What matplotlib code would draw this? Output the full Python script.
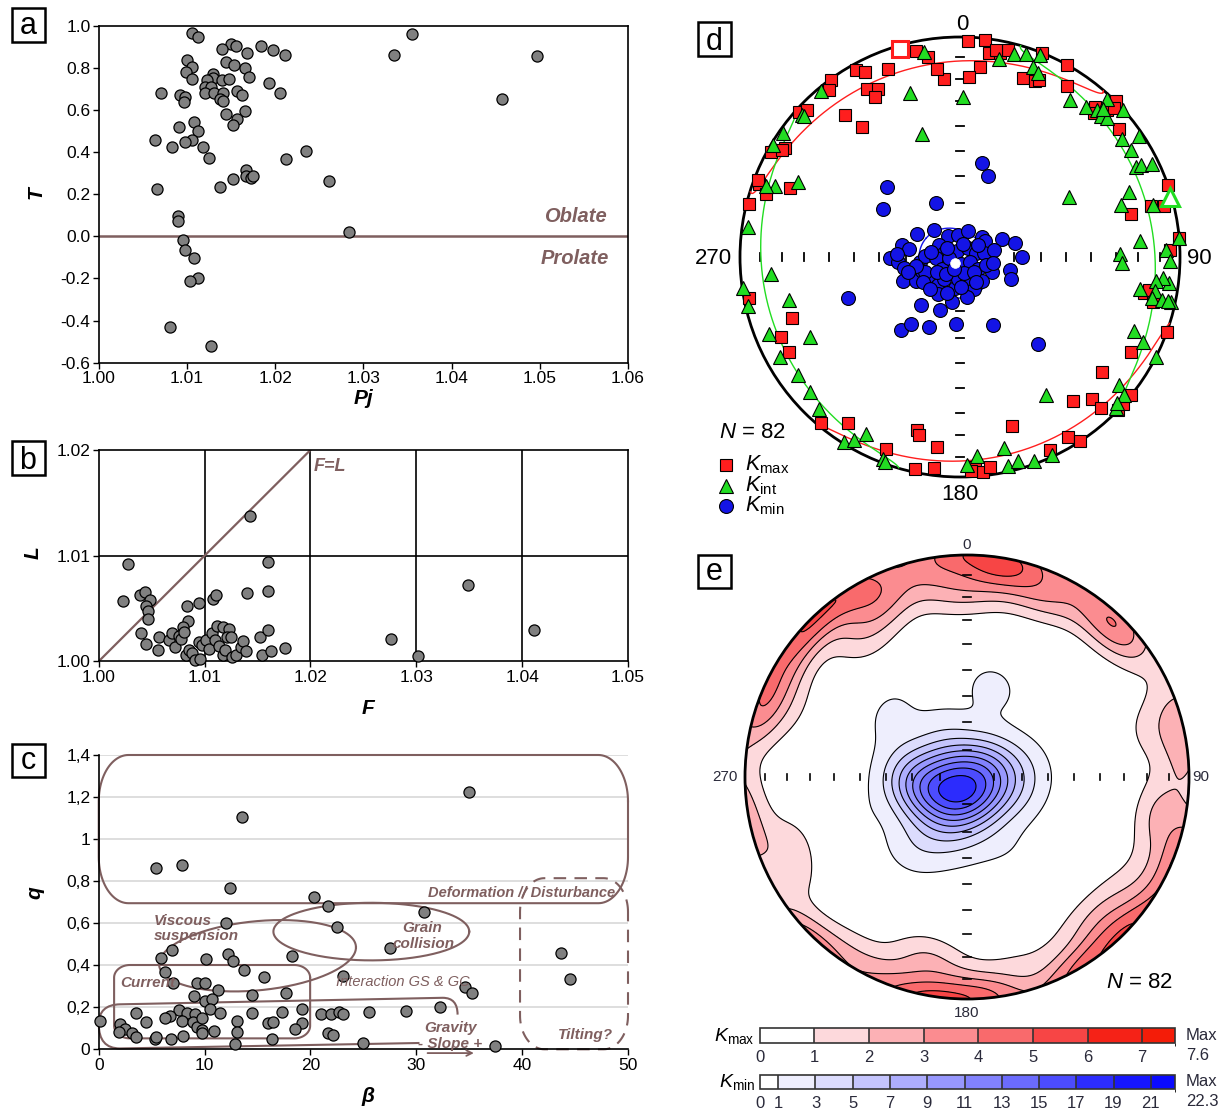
import numpy as np
import matplotlib
matplotlib.use("Agg")
import matplotlib.pyplot as plt
from matplotlib.patches import Circle, Rectangle, PathPatch
from matplotlib.path import Path
from matplotlib.lines import Line2D
from matplotlib.colors import ListedColormap, BoundaryNorm
from matplotlib.cm import ScalarMappable

# ---------------- data ----------------
# (a) T vs Pj
pj = [1.0106, 1.0113, 1.0150, 1.0156, 1.0140, 1.0168, 1.0184, 1.0197, 1.0211, 1.0100,
      1.0106, 1.0144, 1.0153, 1.0166, 1.0099, 1.0106, 1.0129, 1.0130, 1.0123, 1.0140,
      1.0148, 1.0170, 1.0193, 1.0121, 1.0127, 1.0121, 1.0131, 1.0141, 1.0157, 1.0162,
      1.0206, 1.0071, 1.0092, 1.0098, 1.0097, 1.0138, 1.0141, 1.0166, 1.0144, 1.0157,
      1.0152, 1.0091, 1.0108, 1.0112, 1.0106, 1.0098, 1.0064, 1.0083, 1.0118, 1.0125,
      1.0212, 1.0235, 1.0167, 1.0167, 1.0173, 1.0175, 1.0152, 1.0138, 1.0066, 1.0261,
      1.0090, 1.0090, 1.0284, 1.0095, 1.0098, 1.0108, 1.0112, 1.0103, 1.0081, 1.0127,
      1.0335, 1.0355, 1.0457, 1.0497]
T_vals = [0.967, 0.948, 0.913, 0.904, 0.889, 0.869, 0.903, 0.883, 0.862, 0.839,
          0.805, 0.828, 0.812, 0.801, 0.778, 0.748, 0.771, 0.753, 0.742, 0.742,
          0.748, 0.758, 0.729, 0.708, 0.708, 0.679, 0.682, 0.679, 0.691, 0.671,
          0.679, 0.679, 0.671, 0.660, 0.639, 0.650, 0.644, 0.597, 0.581, 0.555,
          0.527, 0.521, 0.541, 0.500, 0.457, 0.448, 0.457, 0.422, 0.422, 0.373,
          0.366, 0.407, 0.313, 0.286, 0.275, 0.285, 0.271, 0.236, 0.226, 0.263,
          0.097, 0.073, 0.019, -0.017, -0.065, -0.101, -0.196, -0.212, -0.429, -0.519,
          0.862, 0.960, 0.652, 0.854]

# (b) L vs F
F_vals = [1.0143, 1.0028, 1.0160, 1.0023, 1.0039, 1.0044, 1.0048, 1.0045, 1.0047, 1.0047,
          1.0083, 1.0095, 1.0108, 1.0111, 1.0140, 1.0160, 1.0084, 1.0080, 1.0040, 1.0045,
          1.0056, 1.0057, 1.0066, 1.0069, 1.0072, 1.0076, 1.0078, 1.0081, 1.0082, 1.0085,
          1.0088, 1.0091, 1.0096, 1.0095, 1.0098, 1.0101, 1.0104, 1.0107, 1.0110, 1.0112,
          1.0114, 1.0117, 1.0117, 1.0119, 1.0123, 1.0121, 1.0125, 1.0126, 1.0130, 1.0134,
          1.0136, 1.0139, 1.0152, 1.0154, 1.0160, 1.0163, 1.0176, 1.0276, 1.0302, 1.0349,
          1.0411]
L_vals = [1.01379, 1.00921, 1.00937, 1.00568, 1.00628, 1.00659, 1.00580, 1.00524, 1.00476, 1.00401,
          1.00524, 1.00549, 1.00587, 1.00628, 1.00650, 1.00662, 1.00379, 1.00328, 1.00265, 1.00167,
          1.00104, 1.00230, 1.00202, 1.00265, 1.00139, 1.00237, 1.00215, 1.00276, 1.00060, 1.00107,
          1.00082, 1.00013, 1.00025, 1.00186, 1.00155, 1.00202, 1.00120, 1.00265, 1.00202, 1.00338,
          1.00145, 1.00322, 1.00060, 1.00107, 1.00303, 1.00233, 1.00227, 1.00038, 1.00060, 1.00139,
          1.00192, 1.00101, 1.00230, 1.00060, 1.00297, 1.00101, 1.00123, 1.00208, 1.00047, 1.00726,
          1.00297]

# (c) q vs beta
beta = [35.0, 13.5, 5.4, 7.9, 12.4, 20.3, 21.7, 30.7, 12.0, 22.5,
        27.5, 18.3, 12.2, 12.7, 5.9, 6.9, 10.1, 6.3, 13.7, 15.6,
        23.1, 7.0, 9.3, 10.0, 11.3, 9.0, 14.5, 17.7, 10.0, 10.7,
        10.5, 19.2, 32.2, 34.6, 35.3, 29.0, 25.5, 21.0, 21.9, 22.7,
        23.1, 17.3, 11.5, 14.5, 7.6, 8.3, 9.1, 6.7, 6.3, 3.5,
        4.5, 7.9, 8.9, 9.3, 9.8, 9.8, 9.8, 10.9, 13.1, 13.1,
        16.0, 16.5, 19.2, 18.5, 21.7, 22.1, 0.1, 2.0, 2.5, 1.9,
        3.1, 3.5, 5.3, 5.4, 6.8, 8.0, 16.4, 12.9, 25.0, 37.4,
        43.7, 44.5]
q_vals = [1.224, 1.107, 0.863, 0.875, 0.768, 0.726, 0.684, 0.655, 0.603, 0.584,
          0.481, 0.446, 0.452, 0.420, 0.436, 0.473, 0.431, 0.370, 0.377, 0.343,
          0.349, 0.314, 0.314, 0.314, 0.282, 0.255, 0.258, 0.268, 0.232, 0.238,
          0.193, 0.192, 0.200, 0.295, 0.266, 0.184, 0.178, 0.170, 0.170, 0.176,
          0.170, 0.179, 0.171, 0.171, 0.187, 0.171, 0.168, 0.160, 0.151, 0.171,
          0.130, 0.136, 0.132, 0.108, 0.147, 0.092, 0.076, 0.089, 0.136, 0.082,
          0.124, 0.130, 0.124, 0.097, 0.076, 0.070, 0.136, 0.119, 0.098, 0.082,
          0.076, 0.057, 0.048, 0.060, 0.048, 0.063, 0.048, 0.025, 0.029, 0.016,
          0.457, 0.336]

# (d) principal axes: declination / inclination (degrees)
kmax_dec = [2, 6.5, 8, 11, 13, 22, 29, 19.5, 23, 32, 6, 3, 355, 353, 351, 348, 339, 331, 333, 324,
            322, 331, 334, 332, 321, 323, 312, 314, 302, 299, 290, 288, 292, 284, 259, 250, 246, 241,
            220, 214, 201, 194, 193, 187, 192, 187, 176, 174, 172, 163, 155, 149, 147, 142, 137, 129,
            137, 134, 132, 129, 119, 110, 101, 103, 71, 76, 75, 76, 88, 85, 51, 45, 45, 42, 43,
            10, 46, 100, 291, 177, 24, 301]
kmax_inc = [2, 1, 7, 6, 4, 0, 0, 15, 14, 9, 14, 19, 20, 15, 9, 5, 9.5, 3, 6, 0.5,
            4, 14, 16, 19, 18, 27, 1.5, 4, 7, 2, 3, 8, 18, 1.5, 2.5, 20, 12, 12,
            2, 10, 7, 20, 18, 14, 1.5, 4, 5, 2, 4, 21, 3.5, 5, 0.3, 18, 13, 18,
            7, 0, 0.5, 0, 12, 0, 16, 11, 0, 5, 11, 21, 5, 0, 8, 0, 6, 9, 11.5,
            5, 3, 14, 2, 3, 13, 6]
kint_dec = [350, 11, 15, 21.5, 21, 23, 343, 1, 343, 320, 312, 305, 301, 295, 291, 290, 278, 265,
            262, 257, 256, 242, 248, 241, 234, 228, 223, 212, 210, 208, 201, 200, 178, 175, 167,
            167, 164, 160, 155, 148, 61, 35, 40, 43, 45, 46.5, 43, 48, 54, 56, 58, 63, 63, 64,
            69, 72, 75, 85, 89, 92, 88, 91, 97, 96, 97, 100, 100, 102, 102, 102, 113, 115, 117,
            129, 130, 134, 85, 133, 44, 102, 312, 18]
kint_inc = [6, 9, 5, 1.5, 8.5, 10, 23, 28, 41, 2, 4, 2, 1, 20, 11, 7, 3, 15,
            0.2, 1.4, 21, 24, 7, 7, 10, 9, 6.5, 1, 4.5, 9.5, 2, 1, 6, 10, 3,
            12, 4, 1.5, 0.7, 27, 43, 14, 12, 9.5, 10, 9, 2, 0, 10, 2, 9, 11, 8.7, 3.5,
            19, 24, 10, 19, 28, 27, 7, 5, 5, 8, 11, 18, 11, 12, 7, 2, 15, 9, 0,
            8, 3, 1.4, 0, 3, 7, 4, 5, 3.4]
kmin_dec = [13, 19, 314, 302, 336, 250, 138, 219, 216, 204, 183, 154, 219, 201, 190,
            316, 298, 330, 355, 18, 48, 58, 67, 76, 90, 282, 279, 269, 265, 259, 247, 241, 263, 272, 299,
            283, 331, 43, 76, 81, 250, 239, 267, 235, 206, 168, 116, 122, 116, 105, 113, 156, 170, 190, 218,
            216, 185, 162, 210, 246, 259, 138, 164, 263,
            280, 305, 12, 57, 78, 237, 220, 205, 138, 236, 223, 200, 178, 148, 107, 254, 273, 101]
kmin_inc = [54, 58, 52, 56, 68, 45, 46, 55, 59, 61.5, 65, 62, 67, 69, 73,
            76, 72, 81, 82, 80, 79, 79, 73, 69, 67, 68, 71, 64, 67, 69, 67, 71.5, 75, 77, 81,
            84, 87.6, 85.5, 84, 81, 75, 77, 81, 82, 84, 87.5, 86, 82, 77, 71, 69.5, 77, 75, 78.5, 77,
            80, 82, 82, 74, 76, 73.5, 78, 84, 86,
            79, 84, 85, 82, 77, 80, 82, 85, 82.5, 73.5, 74, 76, 79, 79, 80, 70, 66.5, 77.6]
# mean directions (Kmax, Kint, Kmin) and confidence-ellipse semi-axes (deg)
mean_dec = [344, 74, 221]
mean_inc = [2, 1, 87]
ell_major = [57, 58, 14]
ell_minor = [10.5, 12, 12]

# (e) contour legend levels
kmax_levels = [0, 1, 2, 3, 4, 5, 6, 7, 7.6]
kmin_levels = [0, 1, 3, 5, 7, 9, 11, 13, 15, 17, 19, 21, 22.3]
kmax_colors = ['#ffffff', '#fdd9dc', '#fcb1b5', '#fb8c90', '#f96a6c', '#f74545', '#f52217', '#f41c08']
kmin_colors = ['#ffffff', '#eeeefd', '#dcdcfd', '#c5c5fd', '#adadfd', '#9797fd', '#8282fd',
               '#6b6bfd', '#4c4cfd', '#2c2cfd', '#1616fd', '#0a0aff']

# ---------------- style ----------------
plt.rcParams['font.family'] = ['Liberation Sans', 'DejaVu Sans']
plt.rcParams['mathtext.fontset'] = 'custom'
plt.rcParams['mathtext.rm'] = 'Liberation Sans'
plt.rcParams['mathtext.it'] = 'Liberation Sans:italic'
plt.rcParams['mathtext.bf'] = 'Liberation Sans:bold'

W, H = 1222, 1110
fig = plt.figure(figsize=(W / 100, H / 100), dpi=100)
BROWN = '#7f5f5f'
FAM = ['Liberation Sans', 'DejaVu Sans']
GREY = '#808080'
TXT = '#2a2a3a'
ann = dict(color=BROWN, fontweight='bold', style='italic', family=FAM)


def fx(x):
    return x / W


def fy(y):
    return 1 - y / H


def box(x0, y0, x1, y1):
    return [x0 / W, 1 - y1 / H, (x1 - x0) / W, (y1 - y0) / H]


def letter(cx, cy, s, dy=9):
    size = 33
    fig.add_artist(Rectangle((fx(cx - size / 2), fy(cy + size / 2)), size / W, size / H,
                             transform=fig.transFigure, fill=False, ec='black', lw=1.8))
    fig.text(fx(cx), fy(cy + dy), s, fontsize=22, ha='center', va='baseline')


def style(ax):
    ax.tick_params(direction='out', length=4, width=1, labelsize=12.5, pad=2, colors='black')
    for s in ax.spines.values():
        s.set_linewidth(1.2)


# ---------------- panel a ----------------
ax_a = fig.add_axes(box(98.75, 25.7, 628, 362.7))
style(ax_a)
ax_a.plot(pj, T_vals, 'o', ms=8, mfc=GREY, mec='black', mew=0.9, zorder=3, clip_on=False)
ax_a.axhline(0, color=BROWN, lw=1.8, zorder=2)
ax_a.set_xlim(1.0, 1.06)
ax_a.set_ylim(-0.6, 1.0)
xt = np.round(np.arange(1.0, 1.0601, 0.01), 2)
ax_a.set_xticks(xt)
ax_a.set_xticklabels([f'{v:.2f}' for v in xt])
yt = np.round(np.arange(-0.6, 1.001, 0.2), 1)
ax_a.set_yticks(yt)
ax_a.set_yticklabels([f'{v:.1f}'.replace('-0.0', '0.0') for v in yt])
ax_a.text(1.054, 0.093, 'Oblate', ha='center', va='center', fontsize=14.5, **ann)
ax_a.text(1.054, -0.104, 'Prolate', ha='center', va='center', fontsize=14.5, **ann)
fig.text(fx(363), fy(398), 'Pj', ha='center', va='center', fontsize=15, fontweight='bold', style='italic')
fig.text(fx(36), fy(193), 'T', ha='center', va='center', fontsize=15, fontweight='bold', style='italic', rotation=90)
letter(28, 25, 'a')

# ---------------- panel b ----------------
ax_b = fig.add_axes(box(98.75, 450, 628, 661.3))
style(ax_b)
for xv in [1.01, 1.02, 1.03, 1.04]:
    ax_b.axvline(xv, color='black', lw=1.2, zorder=1)
ax_b.axhline(1.01, color='black', lw=1.2, zorder=1)
ax_b.plot([1.0, 1.02], [1.0, 1.02], color=BROWN, lw=1.6, zorder=2)
ax_b.plot(F_vals, L_vals, 'o', ms=8, mfc=GREY, mec='black', mew=0.9, zorder=3, clip_on=False)
ax_b.set_xlim(1.0, 1.05)
ax_b.set_ylim(1.0, 1.02)
xt = np.round(np.arange(1.0, 1.0501, 0.01), 2)
ax_b.set_xticks(xt)
ax_b.set_xticklabels([f'{v:.2f}' for v in xt])
ax_b.set_yticks([1.0, 1.01, 1.02])
ax_b.set_yticklabels(['1.00', '1.01', '1.02'])
ax_b.text(1.0203, 1.0184, 'F=L', ha='left', va='center', fontsize=13, **ann)
fig.text(fx(368), fy(708), 'F', ha='center', va='center', fontsize=15, fontweight='bold', style='italic')
fig.text(fx(33), fy(553), 'L', ha='center', va='center', fontsize=15, fontweight='bold', style='italic', rotation=90)
letter(28, 458, 'b', dy=11)

# ---------------- panel c ----------------
ax_c = fig.add_axes(box(98.75, 755, 628, 1049.3))
style(ax_c)
ax_c.spines['top'].set_visible(False)
ax_c.spines['right'].set_visible(False)
ax_c.set_xlim(0, 50)
ax_c.set_ylim(0, 1.4)
qt = [0, 0.2, 0.4, 0.6, 0.8, 1.0, 1.2, 1.4]
ax_c.set_yticks(qt)
ax_c.set_yticklabels(['0', '0,2', '0,4', '0,6', '0,8', '1', '1,2', '1,4'])
ax_c.set_xticks([0, 10, 20, 30, 40, 50])
for v in qt[1:]:
    ax_c.axhline(v, color='#d8d8d8', lw=1.2, zorder=0)


def rrect(ax, x0, y0, x1, y1, rx, ry, **kw):
    t = np.linspace(0, np.pi / 2, 25)
    xs, ys = [], []
    for cx, cy, a0 in [(x1 - rx, y1 - ry, 0), (x0 + rx, y1 - ry, np.pi / 2),
                       (x0 + rx, y0 + ry, np.pi), (x1 - rx, y0 + ry, 1.5 * np.pi)]:
        xs += list(cx + rx * np.cos(t + a0))
        ys += list(cy + ry * np.sin(t + a0))
    xs.append(xs[0])
    ys.append(ys[0])
    ax.plot(xs, ys, clip_on=False, zorder=2, **kw)


rrect(ax_c, 0, 0.695, 50, 1.4, 2.8, 0.22, color=BROWN, lw=1.5)
rrect(ax_c, 1.45, 0.052, 19.97, 0.401, 1.5, 0.06, color=BROWN, lw=1.5)
rrect(ax_c, 39.8, 0.0, 50, 0.814, 2.3, 0.16, color=BROWN, lw=1.5, ls=(0, (6, 4)))
grav = Path([(33.9, 0.165), (33.9, 0.245), (32.5, 0.245), (2.0, 0.214),
             (0.0, 0.212), (0.0, 0.12), (0.0, 0.004), (2.0, 0.004), (30.3, 0.03)],
            [Path.MOVETO, Path.CURVE3, Path.CURVE3, Path.LINETO,
             Path.CURVE3, Path.CURVE3, Path.CURVE3, Path.CURVE3, Path.LINETO])
ax_c.add_patch(PathPatch(grav, fill=False, ec=BROWN, lw=1.5, zorder=2, clip_on=False))
tt = np.linspace(0, 2 * np.pi, 300)
ax_c.plot(15.0 + 9.3 * np.cos(tt), 0.445 + 0.165 * np.sin(tt) + 0.0043 * 9.3 * np.cos(tt),
          color=BROWN, lw=1.5, zorder=2)
ax_c.plot(25.75 + 9.25 * np.cos(tt), 0.56 + 0.137 * np.sin(tt), color=BROWN, lw=1.5, zorder=2)
ax_c.annotate('', xy=(35.7, -0.018), xytext=(30.8, -0.018),
              arrowprops=dict(arrowstyle='->', color=BROWN, lw=1.3), annotation_clip=False)
ax_c.plot(beta, q_vals, 'o', ms=8, mfc=GREY, mec='black', mew=0.9, zorder=3, clip_on=False)
fs_c = 11
ax_c.text(39.9, 0.742, 'Deformation // Disturbance', ha='center', va='center', fontsize=10.5, **ann)
ax_c.text(5.2, 0.61, 'Viscous', ha='left', va='center', fontsize=fs_c, **ann)
ax_c.text(5.2, 0.538, 'suspension', ha='left', va='center', fontsize=fs_c, **ann)
ax_c.text(30.6, 0.575, 'Grain', ha='center', va='center', fontsize=fs_c, **ann)
ax_c.text(30.7, 0.503, 'collision', ha='center', va='center', fontsize=fs_c, **ann)
ax_c.text(4.6, 0.314, 'Current', ha='center', va='center', fontsize=fs_c, **ann)
ax_c.text(28.7, 0.322, 'Interaction GS & GC', ha='center', va='center', fontsize=10.5,
          color=BROWN, style='italic', family=FAM)
ax_c.text(33.2, 0.10, 'Gravity', ha='center', va='center', fontsize=fs_c, **ann)
ax_c.text(33.2, 0.026, '- Slope +', ha='center', va='center', fontsize=fs_c, **ann)
ax_c.text(46.0, 0.068, 'Tilting?', ha='center', va='center', fontsize=fs_c, **ann)
fig.text(fx(368), fy(1097), 'β', ha='center', va='center', fontsize=15, fontweight='bold', style='italic')
fig.text(fx(35), fy(893), 'q', ha='center', va='center', fontsize=15, fontweight='bold', style='italic', rotation=90)
letter(28, 760, 'c')


# ---------------- stereonet helpers ----------------
def dirvec(dec, inc):
    d = np.radians(np.asarray(dec, float))
    i = np.radians(np.asarray(inc, float))
    return np.stack([np.cos(i) * np.cos(d), np.cos(i) * np.sin(d), np.sin(i)], axis=-1)


def project(v):
    v = np.atleast_2d(np.array(v, float))
    neg = v[:, 2] < 0
    v[neg] *= -1
    z = np.clip(v[:, 2], -1, 1)
    h = np.hypot(v[:, 0], v[:, 1])
    rr = np.sqrt(np.clip(1 - z, 0, None))
    s = np.where(h > 1e-12, rr / np.maximum(h, 1e-12), 0.0)
    return v[:, 1] * s, v[:, 0] * s


def ellipse_xy(dec, inc, a, b, n=721):
    m = dirvec(dec, inc)
    d = np.radians(dec)
    e1 = np.array([-np.sin(d), np.cos(d), 0.0])
    e2 = np.cross(m, e1)
    e2 /= np.linalg.norm(e2)
    phi = np.linspace(0, 2 * np.pi, n)
    A, B = np.radians(a), np.radians(b)
    alpha = A * B / np.sqrt((B * np.cos(phi)) ** 2 + (A * np.sin(phi)) ** 2)
    v = (np.cos(alpha)[:, None] * m[None, :] +
         np.sin(alpha)[:, None] * (np.cos(phi)[:, None] * e1[None, :] + np.sin(phi)[:, None] * e2[None, :]))
    flip = v[:, 2] < 0
    X, Y = project(v)
    X = X.astype(float)
    Y = Y.astype(float)
    brk = np.where(np.diff(flip.astype(int)) != 0)[0]
    X = np.insert(X, brk + 1, np.nan)
    Y = np.insert(Y, brk + 1, np.nan)
    return X, Y


RED, GREEN, BLUE = '#ff1e1e', '#22dd22', '#1414e6'

# ---------------- panel d ----------------
ax_d = fig.add_axes(box(710, 7, 1210, 507))
lim = 250 / 220
ax_d.set_xlim(-lim, lim)
ax_d.set_ylim(-lim, lim)
ax_d.axis('off')
ax_d.add_patch(Circle((0, 0), 1, fill=False, lw=2.0, ec='black', zorder=1))
for inc in range(10, 90, 10):
    r = np.sqrt(2) * np.sin(np.radians(90 - inc) / 2)
    for s in (-1, 1):
        ax_d.plot([s * r, s * r], [-0.016, 0.016], color='black', lw=1.3, zorder=1)
        ax_d.plot([-0.02, 0.02], [s * r, s * r], color='black', lw=1.3, zorder=1)
for k, col in enumerate([RED, GREEN, BLUE]):
    ex, ey = ellipse_xy(mean_dec[k], mean_inc[k], ell_major[k], ell_minor[k])
    ax_d.plot(ex, ey, color=col, lw=1.0, zorder=2)
xm, ym = project(dirvec(kmax_dec, kmax_inc))
ax_d.plot(xm, ym, 's', ms=8.5, mfc=RED, mec='black', mew=0.8, zorder=3, clip_on=False)
xi, yi = project(dirvec(kint_dec, kint_inc))
ax_d.plot(xi, yi, '^', ms=9.5, mfc=GREEN, mec='black', mew=0.8, zorder=3, clip_on=False)
xn, yn = project(dirvec(kmin_dec, kmin_inc))
ax_d.plot(xn, yn, 'o', ms=10, mfc=BLUE, mec='black', mew=0.8, zorder=4)
mx, my = project(dirvec(mean_dec, mean_inc))
ax_d.plot(mx[0], my[0], 's', ms=11, mfc='white', mec=RED, mew=2.2, zorder=5, clip_on=False)
ax_d.plot(mx[1], my[1], '^', ms=13, mfc='white', mec=GREEN, mew=2.2, zorder=5, clip_on=False)
ax_d.plot(mx[2], my[2], 'o', ms=7, mfc='white', mec='white', mew=0.5, zorder=5)
for s, (x, y) in {'0': (962, 25), '90': (1199, 258), '180': (960, 494), '270': (713, 258)}.items():
    fig.text(fx(x), fy(y), s, ha='center', va='center', fontsize=16)
fig.text(fx(719), fy(433), r'$\mathit{N}$ = 82', ha='left', va='center', fontsize=16)
leg = [('s', RED, 8.5, r'$\mathit{K}_{\mathrm{max}}$', 465),
       ('^', GREEN, 9.5, r'$\mathit{K}_{\mathrm{int}}$', 485.5),
       ('o', BLUE, 10, r'$\mathit{K}_{\mathrm{min}}$', 506)]
for mk, col, ms, lab, y in leg:
    fig.add_artist(Line2D([fx(726)], [fy(y)], marker=mk, ms=ms, mfc=col, mec='black', mew=0.8,
                          ls='none', transform=fig.transFigure))
    fig.text(fx(745), fy(y), lab, ha='left', va='center', fontsize=15.5)
letter(714, 39, 'd', dy=11)

# ---------------- panel e ----------------
ax_e = fig.add_axes(box(717, 527, 1217, 1027))
lim = 250 / 222
ax_e.set_xlim(-lim, lim)
ax_e.set_ylim(-lim, lim)
ax_e.axis('off')

g = np.linspace(-1.01, 1.01, 321)
GX, GY = np.meshgrid(g, g)


def density(dec, inc, kappa):
    D = dirvec(dec, inc)
    R = np.hypot(GX, GY)
    Rc = np.clip(R, 1e-9, 1.0)
    z = 1 - Rc ** 2
    h = np.sqrt(np.clip(1 - z ** 2, 0, None))
    Rs = np.maximum(R, 1e-9)
    G = np.stack([h * GY / Rs, h * GX / Rs, z], axis=-1).reshape(-1, 3)
    c = np.abs(G @ D.T)
    dens = kappa / (1 - np.exp(-kappa)) * np.exp(kappa * (c - 1)).mean(axis=1)
    return dens.reshape(GX.shape)


dmax = density(kmax_dec, kmax_inc, 55.0)
dmin = density(kmin_dec, kmin_inc, 62.0)
clip_circ = Circle((0, 0), 1, transform=ax_e.transData)
lev_max = list(kmax_levels[1:-1]) + [max(kmax_levels[-1], dmax.max()) + 1e-6]
lev_min = list(kmin_levels[1:-1]) + [max(kmin_levels[-1], dmin.max()) + 1e-6]
for dd, lev, cols in [(dmax, lev_max, kmax_colors[1:]), (dmin, lev_min, kmin_colors[1:])]:
    cf = ax_e.contourf(GX, GY, dd, levels=lev, colors=cols, zorder=1)
    cf.set_clip_path(clip_circ)
    cl = ax_e.contour(GX, GY, dd, levels=lev[:-1], colors='black', linewidths=0.8, zorder=2)
    cl.set_clip_path(clip_circ)
ax_e.add_patch(Circle((0, 0), 1, fill=False, lw=2.0, ec='black', zorder=5))
for inc in range(10, 90, 10):
    r = np.sqrt(2) * np.sin(np.radians(90 - inc) / 2)
    for s in (-1, 1):
        ax_e.plot([s * r, s * r], [-0.013, 0.013], color='black', lw=1.2, zorder=6)
        ax_e.plot([-0.016, 0.016], [s * r, s * r], color='black', lw=1.2, zorder=6)
for s, (x, y) in {'0': (967, 545), '90': (1201, 777), '180': (967, 1013), '270': (725, 777)}.items():
    fig.text(fx(x), fy(y), s, ha='center', va='center', fontsize=11, color=TXT)
fig.text(fx(1173), fy(982), r'$\mathit{N}$ = 82', ha='right', va='center', fontsize=16)
letter(714, 571, 'e')

# colour scales
for (y0, y1, bounds, cols, lab, mx_txt) in [
        (1028, 1043, kmax_levels, kmax_colors, r'$\mathit{K}_{\mathrm{max}}$', '7.6'),
        (1075, 1089, kmin_levels, kmin_colors, r'$\mathit{K}_{\mathrm{min}}$', '22.3')]:
    cax = fig.add_axes(box(759.6, y0, 1175, y1))
    cmap = ListedColormap(cols)
    norm = BoundaryNorm(bounds, cmap.N)
    sm = ScalarMappable(norm=norm, cmap=cmap)
    cb = fig.colorbar(sm, cax=cax, orientation='horizontal', boundaries=bounds,
                      spacing='proportional', drawedges=True, ticks=bounds[:-1])
    cb.outline.set_linewidth(1.2)
    cb.outline.set_edgecolor('#333333')
    cb.dividers.set_color('#333333')
    cb.dividers.set_linewidth(1.2)
    cax.set_xticklabels([f'{b:g}' for b in bounds[:-1]])
    cax.tick_params(length=0, pad=5, labelsize=12, labelcolor=TXT)
    yc = (y0 + y1) / 2
    fig.text(fx(755), fy(yc), lab, ha='right', va='center', fontsize=14)
    fig.text(fx(1186), fy(yc), 'Max', ha='left', va='center', fontsize=12, color=TXT)
    fig.text(fx(1186), fy(y1 + 13), mx_txt, ha='left', va='center', fontsize=12, color=TXT)

fig.savefig('out.png', dpi=100)
